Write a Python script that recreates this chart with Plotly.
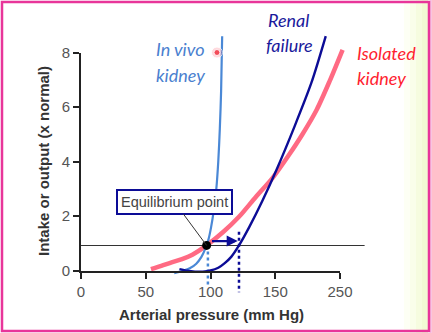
import plotly.graph_objects as go

# ---- data -------------------------------------------------------------
# Isolated kidney: renal output curve (pressure natriuresis)
iso_x = [54, 62, 70, 78, 86, 97, 110, 122, 135, 148, 160, 171, 182, 192, 202]
iso_y = [0.05, 0.17, 0.30, 0.42, 0.58, 0.92, 1.42, 1.97, 2.70, 3.40, 4.20, 5.00, 5.90, 6.95, 8.10]

# In vivo kidney: very steep output curve
vivo_x = [72, 78, 84, 89, 93, 96, 98.5, 100.5, 102.5, 104.5, 106, 107.2, 108.2, 109]
vivo_y = [-0.10, -0.02, 0.08, 0.25, 0.50, 0.80, 1.15, 1.60, 2.20, 3.00, 4.00, 5.20, 6.60, 8.60]

# Renal failure: curve shifted to higher pressures
fail_x = [76, 82, 88, 94, 100, 106, 111, 116, 122, 130, 140, 151, 165, 178, 189]
fail_y = [0.05, -0.01, -0.04, -0.04, 0.00, 0.10, 0.27, 0.50, 0.92, 1.60, 2.55, 3.70, 5.30, 6.90, 8.60]

# Normal intake level and the two equilibrium pressures
intake_level = 0.92
intake_x = [0, 219]
eq_normal = 97
eq_failure = 122

x_tickvals = [0, 50, 100, 150, 200]
x_ticktext = ["0", "50", "100", "150", "250"]
y_tickvals = [0, 2, 4, 6, 8]

# ---- geometry ----------------------------------------------------------
W, H = 432, 333
# frame axes (drawn box) in paper coordinates
fx0, fx1 = 81 / W, 340 / W
fy0, fy1 = (H - 270.5) / H, (H - 52.5) / H
FX = [0, 200]
FY = [0, 8]

# data axes span the whole paper with the same scale as the frame axes
sx = (FX[1] - FX[0]) / (fx1 - fx0)
sy = (FY[1] - FY[0]) / (fy1 - fy0)
data_xrange = [FX[0] - fx0 * sx, FX[1] + (1 - fx1) * sx]
data_yrange = [FY[0] - fy0 * sy, FY[1] + (1 - fy1) * sy]
px_per_x = W * (fx1 - fx0) / (FX[1] - FX[0])
px_per_y = H * (fy1 - fy0) / (FY[1] - FY[0])


def dx(px):
    return (px - 81) / px_per_x


def dy(py):
    return (270.5 - py) / px_per_y


NAVY = "#0c0c96"
LBLUE = "#4a88d6"
PINK = "#ff5a76"
AXC = "#222222"

fig = go.Figure()

# intake line
fig.add_trace(go.Scatter(x=intake_x, y=[intake_level] * 2, mode="lines",
                         line=dict(color="#333333", width=1.1), hoverinfo="skip"))

# equilibrium drop lines
fig.add_trace(go.Scatter(x=[eq_normal + 1, eq_normal + 1], y=[intake_level, -0.55], mode="lines",
                         line=dict(color=LBLUE, width=2.5, dash="dot"), hoverinfo="skip"))
fig.add_trace(go.Scatter(x=[eq_failure, eq_failure], y=[1.42, -0.8], mode="lines",
                         line=dict(color=NAVY, width=2.5, dash="dot"), hoverinfo="skip"))

# curves
fig.add_trace(go.Scatter(x=iso_x, y=iso_y, mode="lines", opacity=0.9,
                         line=dict(color=PINK, width=4.5, shape="spline", smoothing=0.8)))
fig.add_trace(go.Scatter(x=vivo_x, y=vivo_y, mode="lines",
                         line=dict(color=LBLUE, width=2.2, shape="spline", smoothing=0.8)))
fig.add_trace(go.Scatter(x=fail_x, y=fail_y, mode="lines",
                         line=dict(color=NAVY, width=2.4, shape="spline", smoothing=0.8)))

# equilibrium point
fig.add_trace(go.Scatter(x=[eq_normal], y=[intake_level], mode="markers",
                         marker=dict(color="black", size=9)))

# red marker with halo
fig.add_trace(go.Scatter(x=[105, 105], y=[8.0, 8.0], mode="markers",
                         marker=dict(color=["rgba(255,80,100,0.3)", "#ee1122"], size=[11, 6])))

# frame axes carry an invisible trace so they render
fig.add_trace(go.Scatter(x=[0], y=[0], xaxis="x2", yaxis="y2", mode="markers",
                         marker=dict(opacity=0), hoverinfo="skip"))

tickfont = dict(family="Liberation Sans, Arial", size=15, color="#555555")
fig.update_layout(
    template="none",
    width=W, height=H,
    margin=dict(l=0, r=0, t=0, b=0, pad=0, autoexpand=False),
    paper_bgcolor="white", plot_bgcolor="rgba(0,0,0,0)",
    showlegend=False,
    xaxis=dict(range=data_xrange, domain=[0, 1], visible=False, fixedrange=True,
               automargin=False),
    yaxis=dict(range=data_yrange, domain=[0, 1], visible=False, fixedrange=True,
               automargin=False),
    xaxis2=dict(range=FX, domain=[fx0, fx1], anchor="y2", automargin=False,
                showgrid=False, zeroline=False, showline=True, linecolor=AXC, linewidth=2,
                ticks="outside", ticklen=6, tickwidth=2, tickcolor=AXC,
                tickvals=x_tickvals, ticktext=x_ticktext, tickfont=tickfont,
                fixedrange=True),
    yaxis2=dict(range=FY, domain=[fy0, fy1], anchor="x2", automargin=False,
                showgrid=False, zeroline=False, showline=True, linecolor=AXC, linewidth=2,
                ticks="outside", ticklen=6, tickwidth=2, tickcolor=AXC,
                tickvals=y_tickvals, tickfont=tickfont, fixedrange=True),
)

titlefont = dict(family="Liberation Sans, Arial", size=15, color="#333333")
lab = "Lato, Open Sans, sans-serif"


def label(px, py, text, color):
    return dict(x=dx(px), y=dy(py), xanchor="left", yanchor="middle", showarrow=False,
                text=f"<i>{text}</i>", font=dict(family=lab, size=18, color=color))


annotations = [
    # axis titles
    dict(x=211 / W, y=(H - 314) / H, xref="paper", yref="paper", showarrow=False,
         xanchor="center", yanchor="middle",
         text="<b>Arterial pressure (mm Hg)</b>", font=titlefont),
    dict(x=43 / W, y=(H - 161) / H, xref="paper", yref="paper", showarrow=False,
         xanchor="center", yanchor="middle",
         text="<b>Intake or output (x normal)</b>", font=titlefont, textangle=-90),
    # curve labels
    label(154, 49, "In vivo", "#4a7fcf"),
    label(154, 75, "kidney", "#4a7fcf"),
    label(266, 20, "Renal", "#1a1a9c"),
    label(264, 45, "failure", "#1a1a9c"),
    label(355, 53, "Isolated", "#ff1e30"),
    label(355, 78, "kidney", "#ff1e30"),
    # equilibrium point callout
    dict(x=eq_normal, y=intake_level, ax=dx(174.5), ay=dy(202), axref="x", ayref="y",
         xanchor="center", yanchor="middle",
         text="Equilibrium point", showarrow=True, arrowhead=0, arrowwidth=1,
         arrowcolor="#333333", bgcolor="white", bordercolor=NAVY, borderwidth=2,
         borderpad=3, font=dict(family="Liberation Sans, Arial", size=14.5, color="#444444")),
    # shift arrow
    dict(x=eq_failure - 1, y=1.08, ax=eq_normal + 3, ay=1.08, axref="x", ayref="y",
         text="", showarrow=True, arrowhead=2, arrowsize=1, arrowwidth=2.2,
         arrowcolor=NAVY),
]
fig.update_layout(annotations=annotations)

# faint yellow tint along the right edge and the pink frame
shapes = []
tints = ["#fdfff4", "#fafeea", "#f6fcdf", "#f2fad4"]
for i, c in enumerate(tints):
    shapes.append(dict(type="rect", xref="paper", yref="paper", layer="below",
                       x0=(404 + i * 6) / W, x1=(410 + i * 6) / W, y0=0, y1=1,
                       fillcolor=c, line=dict(width=0)))
shapes.append(dict(type="rect", xref="paper", yref="paper",
                   x0=2 / W, x1=429 / W, y0=(H - 331) / H, y1=(H - 2) / H,
                   line=dict(color="#e8359a", width=2.5)))
shapes.append(dict(type="rect", xref="paper", yref="paper", layer="below",
                   x0=430 / W, x1=1, y0=0, y1=1, fillcolor="#f9c4e0", line=dict(width=0)))
fig.update_layout(shapes=shapes)

fig.write_html("out.html", config={"displayModeBar": False})
